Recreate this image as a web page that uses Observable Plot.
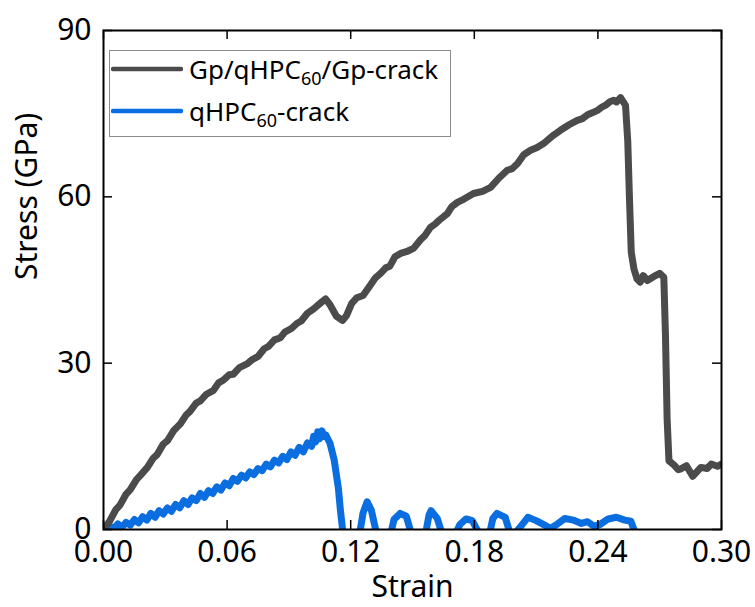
<!DOCTYPE html>
<html>
<head>
<meta charset="utf-8">
<script src="https://cdn.jsdelivr.net/npm/d3@7"></script>
<script src="https://cdn.jsdelivr.net/npm/@observablehq/plot@0.6"></script>
<style>
  html, body { margin: 0; padding: 0; background: #fff; }
  #wrap { position: relative; width: 755px; height: 607px; font-family: "Noto Sans", sans-serif; }
  #legend { position: absolute; left: 109px; top: 50px; width: 342px; height: 87px; border: 1.5px solid #8c8c8c; background: #fff; box-sizing: border-box; }
  .item { position: absolute; left: 0; height: 34px; display: flex; align-items: center; font-size: 26px; color: #000; white-space: nowrap; }
  .item svg { margin-left: 1px; margin-right: 6px; }
  .item sub { font-size: 18px; vertical-align: -6px; line-height: 0; }
</style>
</head>
<body>
<div id="wrap"></div>
<script>
// Gp/qHPC60/Gp-crack
const grayStrain = [0,0.003,0.006,0.008,0.011,0.013,0.016,0.018,0.0213,0.024,0.026,0.029,0.031,0.034,0.0374,0.040,0.042,0.045,0.047,0.050,0.0534,0.056,0.058,0.061,0.063,0.066,0.0699,0.072,0.075,0.078,0.080,0.083,0.0859,0.088,0.091,0.094,0.096,0.099,0.102,0.1055,0.1078,0.110,0.113,0.116,0.118,0.1205,0.123,0.126,0.129,0.132,0.1345,0.137,0.139,0.1415,0.1442,0.147,0.1505,0.154,0.156,0.1587,0.161,0.163,0.167,0.169,0.1718,0.175,0.1796,0.184,0.1879,0.192,0.196,0.1985,0.201,0.204,0.2073,0.2105,0.2136,0.218,0.2218,0.226,0.230,0.2325,0.235,0.2375,0.2398,0.242,0.244,0.246,0.2476,0.249,0.251,0.2534,0.2545,0.2553,0.2562,0.2575,0.259,0.2605,0.262,0.264,0.267,0.270,0.272,0.2728,0.2736,0.2745,0.277,0.279,0.280,0.283,0.286,0.288,0.290,0.293,0.295,0.298,0.300];
const grayStress = [0,1.5,3.6,4.4,6.4,7.2,9.0,9.8,11.2,12.8,13.5,15.4,16.0,17.8,19.1,20.6,21.3,22.8,23.2,24.4,25.1,26.5,26.9,27.9,28.0,29.2,29.9,30.6,31.2,32.6,33.0,34.2,34.6,35.6,36.2,37.2,37.6,39.0,39.8,40.9,41.6,40.5,38.5,37.7,38.6,40.8,41.8,42.2,43.8,45.4,46.2,47.2,47.5,49.2,49.8,50.1,50.7,52.3,53.0,54.5,55.1,55.8,57.0,58.2,59.0,59.6,60.6,61.0,61.7,63.4,64.8,65.1,66.0,67.6,68.4,68.9,69.6,71.0,72.0,73.0,73.8,74.1,74.8,75.2,75.6,76.2,76.6,77.2,77.4,77.1,77.9,76.5,70,60,50,47,45.2,44.6,45.8,44.9,45.6,46.2,45.5,35,20,12.4,11.6,10.8,10.9,11.5,9.6,10.4,11.2,11.0,11.8,11.4,11.8];

// qHPC60-crack
const blueStrain = [0,0.003,0.005,0.007,0.009,0.011,0.013,0.015,0.017,0.019,0.021,0.023,0.025,0.027,0.029,0.031,0.033,0.035,0.037,0.039,0.041,0.043,0.045,0.047,0.049,0.051,0.053,0.055,0.057,0.059,0.061,0.063,0.065,0.067,0.069,0.071,0.073,0.075,0.077,0.079,0.081,0.083,0.085,0.087,0.089,0.091,0.093,0.095,0.097,0.099,0.101,0.102,0.103,0.104,0.105,0.106,0.107,0.108,0.110,0.112,0.114,0.115,0.1165,0.124,0.126,0.128,0.130,0.133,0.139,0.141,0.144,0.147,0.150,0.156,0.158,0.159,0.162,0.165,0.170,0.173,0.176,0.179,0.182,0.187,0.189,0.191,0.195,0.198,0.202,0.206,0.210,0.213,0.217,0.220,0.224,0.228,0.232,0.235,0.238,0.241,0.245,0.249,0.253,0.256,0.259];
const blueStress = [-0.5,0.6,0.2,1.0,0.4,1.3,0.8,1.8,1.2,2.3,1.7,2.9,2.2,3.4,2.8,3.9,3.3,4.5,3.9,5.2,4.5,5.7,5.2,6.5,5.8,7.0,6.5,7.7,7.1,8.4,7.9,9.2,8.7,9.8,9.3,10.4,9.9,11.0,10.6,11.8,11.3,12.5,12.0,13.2,12.6,14.0,13.4,14.8,14.0,15.6,15.0,16.8,15.8,17.6,16.4,17.8,16.8,17.0,15.5,12.5,7.5,3.5,-1.5,-1.5,3.0,5.0,3.5,-1.5,-1.5,1.8,2.9,2.4,-1.5,-1.5,2.6,3.4,2.0,-1.5,-1.5,0.9,1.9,1.6,-0.5,-1.5,2.0,2.9,2.2,-1.5,0.3,2.2,1.6,1.0,0.2,0.9,2.0,1.7,1.1,1.4,0.6,0.9,1.9,2.2,1.7,1.5,-1.5];

const xTicks = [0, 0.06, 0.12, 0.18, 0.24, 0.30];
const yTicks = [0, 30, 60, 90];

const grayData = grayStrain.map((x, i) => ({x, y: grayStress[i]}));
const blueData = blueStrain.map((x, i) => ({x, y: blueStress[i]}));

const W = 755, H = 607, mL = 103, mR = 34, mT = 30, mB = 78;
const iw = W - mL - mR, ih = H - mT - mB;
const tickLen = 9;

const chart = Plot.plot({
  width: W, height: H,
  marginLeft: mL, marginRight: mR, marginTop: mT, marginBottom: mB,
  style: {fontFamily: "'Noto Sans', sans-serif", background: "#fff", color: "#000"},
  x: {domain: [0, 0.30]},
  y: {domain: [0, 90]},
  marks: [
    Plot.line(blueData, {x: "x", y: "y", stroke: "#0a6ee0", strokeWidth: 7, clip: true}),
    Plot.line(grayData, {x: "x", y: "y", stroke: "#4b4b4b", strokeWidth: 7, clip: true}),
    Plot.tickX(xTicks, {x: d => d, insetTop: ih - tickLen, stroke: "#000", strokeWidth: 1.5}),
    Plot.tickX(xTicks, {x: d => d, insetBottom: ih - tickLen, stroke: "#000", strokeWidth: 1.5}),
    Plot.tickY(yTicks, {y: d => d, insetRight: iw - tickLen, stroke: "#000", strokeWidth: 1.5}),
    Plot.tickY(yTicks, {y: d => d, insetLeft: iw - tickLen, stroke: "#000", strokeWidth: 1.5}),
    Plot.frame({stroke: "#000", strokeWidth: 2}),
    Plot.axisX(xTicks, {tickSize: 0, tickPadding: 11, fontSize: 30, tickFormat: d3.format(".2f"), label: null}),
    Plot.axisY(yTicks, {tickSize: 0, tickPadding: 12, fontSize: 30, label: null}),
    Plot.text(["Strain"], {frameAnchor: "bottom", dy: 67, fontSize: 30, fill: "#000"}),
    Plot.text(["Stress (GPa)"], {frameAnchor: "left", dx: -76, rotate: -90, fontSize: 30, fill: "#000"})
  ]
});

const wrap = document.getElementById("wrap");
wrap.appendChild(chart);

const legend = document.createElement("div");
legend.id = "legend";
const items = [
  {color: "#4b4b4b", html: "Gp/qHPC<sub>60</sub>/Gp-crack", top: 1},
  {color: "#0a6ee0", html: "qHPC<sub>60</sub>-crack", top: 43}
];
for (const it of items) {
  const row = document.createElement("div");
  row.className = "item";
  row.style.top = it.top + "px";
  row.innerHTML = `<svg width="72" height="8"><line x1="2" y1="4" x2="70" y2="4" stroke="${it.color}" stroke-width="4.5" stroke-linecap="round"/></svg><span>${it.html}</span>`;
  legend.appendChild(row);
}
wrap.appendChild(legend);
</script>
</body>
</html>
